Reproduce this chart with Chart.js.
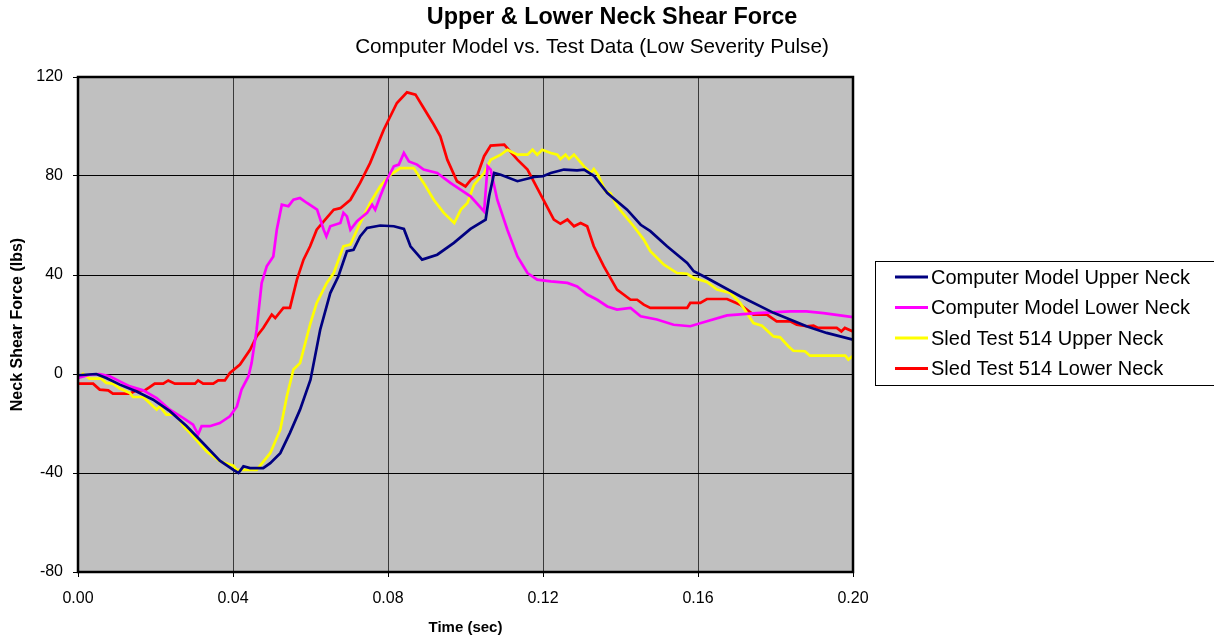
<!DOCTYPE html>
<html>
<head>
<meta charset="utf-8">
<script src="https://cdn.jsdelivr.net/npm/chart.js@4.4.1/dist/chart.umd.min.js"></script>
<style>
  html, body { margin: 0; padding: 0; background: #ffffff; }
  #wrap { position: relative; width: 1214px; height: 643px; }
  canvas { display: block; }
</style>
</head>
<body>
<div id="wrap"><canvas id="c" width="1214" height="643"></canvas></div>
<script>
// ---- Text ----
const chartTitle = "Upper & Lower Neck Shear Force";
const chartSubtitle = "Computer Model vs. Test Data (Low Severity Pulse)";
const xAxisTitle = "Time (sec)";
const yAxisTitle = "Neck Shear Force (lbs)";
const seriesNames = [
  "Computer Model Upper Neck",
  "Computer Model Lower Neck",
  "Sled Test 514 Upper Neck",
  "Sled Test 514 Lower Neck"
];

// ---- Tick values ----
const xTicks = [0, 0.04, 0.08, 0.12, 0.16, 0.20];
const yTicks = [-80, -40, 0, 40, 80, 120];

// ---- Series values: [time (sec), force (lbs)] ----
const modelUpper = [
  [0,-0.5],[0.0047,0],[0.0073,-1.6],[0.0108,-4.3],[0.015,-7],[0.0194,-10.4],[0.0237,-15],
  [0.028,-21],[0.0323,-28],[0.0366,-35],[0.0401,-38.7],[0.0414,-40],[0.0427,-37.3],[0.0444,-38],
  [0.0478,-38],[0.0496,-36],[0.0522,-32],[0.0547,-23.8],[0.0573,-14.4],[0.06,-2.3],[0.0625,17.9],
  [0.0651,32.7],[0.0672,39.5],[0.0694,49.6],[0.0711,50.2],[0.0728,55.6],[0.0746,59],[0.078,60],
  [0.0815,59.7],[0.0841,58.6],[0.0858,51.6],[0.0888,46.2],[0.0927,48.2],[0.097,53],[0.1013,58.6],
  [0.1052,62.4],[0.1061,71.8],[0.1074,81.2],[0.1091,80.5],[0.1134,77.9],[0.1177,79.6],[0.12,79.9],
  [0.122,81.2],[0.1254,82.6],[0.1288,82.3],[0.1306,82.6],[0.1331,80.1],[0.1366,73.1],[0.1417,66.4],
  [0.1452,60.3],[0.1477,57.7],[0.152,51.6],[0.1572,44.9],[0.1589,41.5],[0.1623,38.8],[0.1709,31.4],
  [0.1795,24.7],[0.188,19.3],[0.1932,16.6],[0.2,13.9]
];
const modelLower = [
  [0,-1.6],[0.003,-0.3],[0.0056,0],[0.0082,-0.9],[0.0108,-3],[0.0134,-5],[0.0168,-6.6],
  [0.0203,-9.7],[0.0237,-14.4],[0.0272,-17.8],[0.0297,-20.5],[0.031,-24.5],[0.0319,-21.1],
  [0.034,-21.1],[0.0366,-19.8],[0.0392,-17.1],[0.041,-13.1],[0.0422,-6.3],[0.044,-0.9],
  [0.0448,4.4],[0.0461,17.9],[0.0474,36.8],[0.0487,43.5],[0.0504,47.5],[0.0513,58.3],
  [0.0526,68.4],[0.0543,67.8],[0.0556,70.4],[0.0573,71.1],[0.0591,69.1],[0.0617,66.4],
  [0.0634,58.3],[0.0641,55.6],[0.0651,59.7],[0.0677,61],[0.0685,65.1],[0.0694,63.7],
  [0.0703,58.3],[0.072,61.7],[0.0746,65.1],[0.0759,68.4],[0.0767,66.4],[0.078,71.8],
  [0.0797,78.5],[0.0815,83.9],[0.0828,84.6],[0.0841,89.3],[0.0854,85.9],[0.0875,84.6],
  [0.0892,82.6],[0.0927,81.2],[0.0961,77.2],[0.0987,74.5],[0.1013,71.8],[0.1048,65.7],
  [0.1057,83.9],[0.1065,82.6],[0.1082,70.4],[0.1108,58.3],[0.1134,47.5],[0.116,40.8],
  [0.1185,38.1],[0.122,37.4],[0.1263,36.8],[0.1288,35.4],[0.1314,32.1],[0.134,30],
  [0.1366,27.3],[0.1391,26],[0.1426,26.7],[0.1452,23.3],[0.1494,22],[0.1537,19.9],
  [0.158,19.3],[0.1623,21.3],[0.1675,23.7],[0.1752,24.6],[0.1838,25.3],[0.188,25.3],
  [0.1924,24.6],[0.2,23]
];
const sledUpper = [
  [0,-1.6],[0.0013,0.1],[0.003,-1.9],[0.006,-1.9],[0.0073,-3.6],[0.009,-3.9],[0.0108,-5.9],
  [0.0134,-7.7],[0.0142,-9.3],[0.0168,-9.3],[0.0185,-11.7],[0.0203,-14.4],[0.0211,-13.1],
  [0.0228,-16.4],[0.0254,-16.4],[0.0272,-21.1],[0.0289,-23.8],[0.0332,-31.3],[0.0366,-35.3],
  [0.0401,-37],[0.0409,-38.7],[0.0461,-38.7],[0.0496,-32],[0.0522,-22.5],[0.0539,-9],
  [0.0556,1.8],[0.0573,4.4],[0.06,20.6],[0.0616,28.7],[0.0642,36.8],[0.066,40.8],[0.0685,51.6],
  [0.0703,52.3],[0.0728,61],[0.0754,69.1],[0.078,75.8],[0.0806,80.5],[0.0832,83.2],[0.0866,83.2],
  [0.0892,77.2],[0.0918,70.4],[0.0944,65.1],[0.0971,61],[0.0988,66.4],[0.1005,69.1],[0.1022,76.5],
  [0.1048,81.2],[0.1065,86.6],[0.1091,88.6],[0.1108,90.6],[0.1134,88.6],[0.116,88.6],[0.1173,90.6],
  [0.1185,88.6],[0.1198,90.6],[0.122,89.3],[0.1237,88.6],[0.1245,86.9],[0.1258,88.6],[0.1267,86.9],
  [0.128,88.6],[0.1306,83.9],[0.1323,81.2],[0.1331,82.8],[0.1344,79.9],[0.1361,73.8],[0.1374,73.1],
  [0.1391,67.8],[0.1434,59.7],[0.146,54.3],[0.1477,49.6],[0.1512,44.2],[0.1546,40.8],[0.1572,40.5],
  [0.1589,38.8],[0.1623,37.2],[0.1649,34.1],[0.1683,32.7],[0.1709,28.7],[0.1743,20.6],[0.1765,19.5],
  [0.1795,15.2],[0.1812,14.8],[0.1833,11.2],[0.1846,9.4],[0.1876,9.2],[0.1889,7.4],[0.198,7.4],
  [0.1988,5.8],[0.2,7.4]
];
const sledLower = [
  [0,-3.9],[0.0039,-3.9],[0.0056,-6.3],[0.0078,-6.6],[0.009,-7.9],[0.0134,-7.9],[0.0151,-6.6],
  [0.0172,-6.6],[0.0185,-5.3],[0.0198,-3.9],[0.022,-3.9],[0.0233,-2.6],[0.025,-3.9],[0.0302,-3.9],
  [0.031,-2.6],[0.0323,-3.9],[0.0349,-3.9],[0.0362,-2.6],[0.0379,-2.6],[0.0392,0.4],[0.0418,3.8],
  [0.0444,9.8],[0.0461,15.2],[0.0478,18.6],[0.05,24],[0.0509,22.6],[0.053,26.7],[0.0547,26.7],
  [0.0565,38.1],[0.0582,46.2],[0.0599,51.6],[0.0616,58.3],[0.0634,61.7],[0.066,66.4],[0.0677,67],
  [0.0703,70.4],[0.0728,77.2],[0.0754,85.3],[0.0789,98.7],[0.0823,109.5],[0.0849,113.8],
  [0.0871,112.9],[0.0892,107.5],[0.0918,100.8],[0.0935,96],[0.0953,86.6],[0.0978,77.9],[0.1,75.8],
  [0.1014,78.5],[0.1031,80.5],[0.1048,88],[0.1065,92.3],[0.11,92.7],[0.1134,86.6],[0.116,82.6],
  [0.1194,72.5],[0.1228,62.4],[0.1245,60.7],[0.1263,62.4],[0.128,59.7],[0.1297,61],[0.1314,59.7],
  [0.1331,51.6],[0.1357,43.5],[0.1391,34.1],[0.1426,30],[0.1443,30],[0.146,28],[0.1477,26.7],
  [0.1572,26.7],[0.158,28.7],[0.1606,28.7],[0.1623,30.3],[0.1675,30.3],[0.1709,28],[0.1743,24],
  [0.1778,24],[0.1803,21.3],[0.1838,21.3],[0.1855,19.9],[0.188,19.3],[0.1898,19.5],[0.191,18.6],
  [0.1958,18.6],[0.197,17.2],[0.1979,18.6],[0.2,17.2]
];

// ---- Styles ----
const seriesColors = ["#000080", "#FF00FF", "#FFFF00", "#FF0000"];
const FONT = "'Liberation Sans', Arial, Helvetica, sans-serif";

const seriesData = [modelUpper, modelLower, sledUpper, sledLower];
const datasets = seriesData.map((pts, i) => ({
  label: seriesNames[i],
  data: pts.map(p => ({ x: p[0], y: p[1] })),
  borderColor: seriesColors[i],
  backgroundColor: seriesColors[i],
  borderWidth: 2.7,
  pointRadius: 0,
  tension: 0,
  fill: false,
  order: i
}));

const frameAndTextPlugin = {
  id: 'frameAndText',
  beforeDraw(chart) {
    const { ctx, chartArea: a } = chart;
    ctx.save();
    ctx.fillStyle = '#C0C0C0';
    ctx.fillRect(a.left, a.top, a.right - a.left, a.bottom - a.top);
    ctx.restore();
  },
  afterDatasetsDraw(chart) {
    const { ctx, chartArea: a } = chart;
    ctx.save();
    ctx.strokeStyle = '#000';
    ctx.lineWidth = 2.5;
    ctx.strokeRect(a.left, a.top, a.right - a.left, a.bottom - a.top);
    ctx.restore();
  },
  afterDraw(chart) {
    const { ctx } = chart;
    ctx.save();
    ctx.fillStyle = '#000';
    ctx.textAlign = 'center';
    ctx.textBaseline = 'alphabetic';
    ctx.font = "bold 23.4px " + FONT;
    ctx.fillText(chartTitle, 612, 24);
    ctx.font = "20.7px " + FONT;
    ctx.fillText(chartSubtitle, 592, 53);

    // legend box
    const bx = 875, by = 261, bw = 345, bh = 124;
    ctx.strokeStyle = '#000';
    ctx.lineWidth = 1;
    ctx.strokeRect(bx + 0.5, by + 0.5, bw, bh);
    const rows = [277, 307.5, 338, 368.5];
    ctx.textAlign = 'left';
    ctx.textBaseline = 'middle';
    ctx.font = "20px " + FONT;
    chart.data.datasets.forEach((d, i) => {
      const y = rows[i];
      ctx.strokeStyle = d.borderColor;
      ctx.lineWidth = 3;
      ctx.beginPath();
      ctx.moveTo(895, y);
      ctx.lineTo(928, y);
      ctx.stroke();
      ctx.fillStyle = '#000';
      ctx.fillText(d.label, 931, y + 1);
    });
    ctx.restore();
  }
};

new Chart(document.getElementById('c'), {
  type: 'line',
  data: { datasets },
  options: {
    responsive: false,
    animation: false,
    devicePixelRatio: 1,
    layout: { padding: { top: 77, right: 361, bottom: 0, left: 0 } },
    plugins: {
      legend: { display: false },
      title: { display: false },
      tooltip: { enabled: false }
    },
    scales: {
      x: {
        type: 'linear',
        min: 0, max: 0.2,
        afterBuildTicks(scale) { scale.ticks = xTicks.map(v => ({ value: v })); },
        afterFit(scale) { scale.height = 71; },
        ticks: {
          color: '#000',
          font: { family: FONT, size: 16 },
          padding: 12,
          maxRotation: 0,
          callback: v => Number(v).toFixed(2)
        },
        grid: { color: '#3a3a3a', lineWidth: 1, tickColor: '#000', tickLength: 5, drawTicks: true },
        border: { display: true, color: '#000', width: 2 },
        title: {
          display: true, text: xAxisTitle, color: '#000',
          font: { family: FONT, size: 15, weight: 'bold' },
          padding: { top: 0, bottom: 6 }
        }
      },
      y: {
        type: 'linear',
        min: -80, max: 120,
        afterBuildTicks(scale) { scale.ticks = yTicks.map(v => ({ value: v })); },
        afterFit(scale) { scale.width = 78; },
        ticks: {
          color: '#000',
          font: { family: FONT, size: 16 },
          padding: 10,
          callback: v => String(v)
        },
        grid: { color: '#000', lineWidth: 1, tickColor: '#000', tickLength: 5, drawTicks: true },
        border: { display: true, color: '#000', width: 2 },
        title: {
          display: true, text: yAxisTitle, color: '#000',
          font: { family: FONT, size: 16, weight: 'bold' },
          padding: { top: 8, bottom: 0 }
        }
      }
    }
  },
  plugins: [frameAndTextPlugin]
});
</script>
</body>
</html>
